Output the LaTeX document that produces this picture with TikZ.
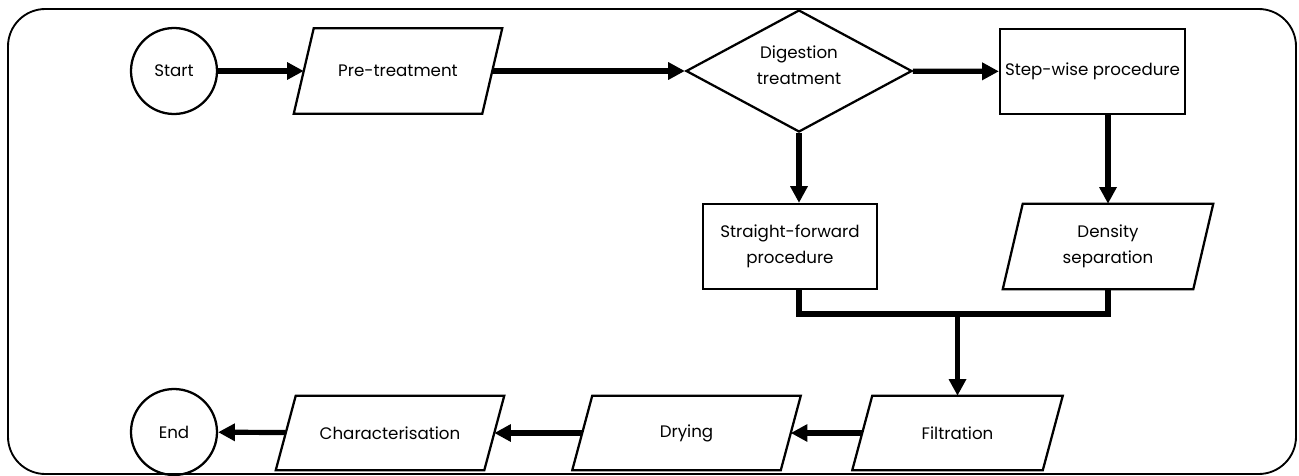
\documentclass[tikz,border=0pt]{standalone}
\usepackage{fontspec}
\setmainfont{Poppins}
\usetikzlibrary{shapes.geometric,arrows.meta}
\newcommand\drawpara[1]{\draw[outline] ([shift={(10,0)}]#1.north west) -- ([shift={(10,0)}]#1.north east) -- ([shift={(-10,0)}]#1.south east) -- ([shift={(-10,0)}]#1.south west) -- cycle;}
\begin{document}
\begin{tikzpicture}[x=0.75pt,y=-0.75pt,
  every node/.style={font=\fontsize{12.5}{19.5}\selectfont, align=center},
  outline/.style={line width=1.7pt,line join=miter},
  box/.style={draw,outline,rectangle,inner sep=0pt,minimum height=63.75pt},
  para/.style={rectangle,inner sep=0pt},
  term/.style={draw,outline,circle,minimum size=64.5pt,inner sep=0pt},
  flow/.style={line width=3.9pt,-{Triangle[length=12.5pt,width=12.5pt]}},
  joinline/.style={line width=3.9pt,line join=miter}]
\useasboundingbox (0,0) rectangle (1299,475);
\draw[line width=1.4pt,rounded corners=28pt] (8,9) rectangle (1296,474);

\node[term] (start) at (174,71) {Start};
\node[para,minimum width=141pt,minimum height=63.75pt] (pre) at (398,71) {Pre-treatment};
\node[draw,diamond,outline,minimum width=169.5pt,minimum height=91.5pt,inner sep=0pt] (dig) at (799,71) {};
\node (digtext) at ([shift={(0,-6)}]dig.center) {Digestion\\treatment};
\node[box,minimum width=138.75pt] (step) at (1092.5,71.5) {Step-wise procedure};
\node[box,minimum width=130.5pt] (sf) at (790,246.5) {Straight-forward\\procedure};
\node[para,minimum width=142.5pt,minimum height=63.75pt] (dens) at (1108,246.5) {Density\\separation};
\node[para,minimum width=142.5pt,minimum height=55.5pt] (filt) at (957.5,433) {Filtration};
\node[para,minimum width=156pt,minimum height=55.5pt] (dry) at (686.5,433) {Drying};
\node[para,minimum width=156pt,minimum height=55.5pt] (char) at (390,433) {Characterisation};
\node[term] (end) at (174,432) {End};

\drawpara{pre}
\drawpara{dens}
\drawpara{filt}
\drawpara{dry}
\drawpara{char}

\coordinate (m) at (957.5,314);

\draw[flow] (start) -- (pre);
\draw[flow] (pre) -- (dig);
\draw[flow] (dig) -- (step);
\draw[flow] (dig.south) -- (dig.south |- sf.north);
\draw[flow] (dens.north |- step.south) -- (dens.north);
\draw[joinline] (dig.south |- sf.south) |- (dens.south |- m) -- (dens.south);
\draw[flow] (m) -- (filt);
\draw[flow] (filt) -- (dry);
\draw[flow] (dry) -- (char);
\draw[flow] (char) -- (end);
\end{tikzpicture}
\end{document}
